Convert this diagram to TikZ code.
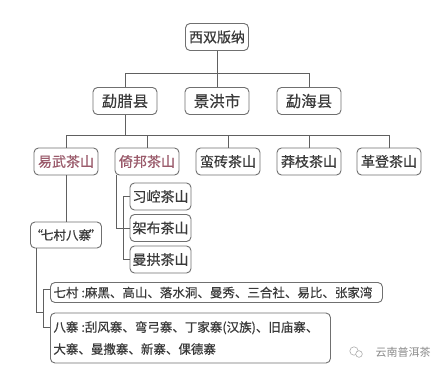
\documentclass[tikz,border=0pt]{standalone}
\usepackage{fontspec}
\newfontfamily\cjk[FakeBold=0.4]{Noto Sans CJK SC}
\newfontfamily\cjkl{Noto Sans CJK SC}
\definecolor{boxgray}{HTML}{707070}
\definecolor{linegray}{HTML}{606060}
\definecolor{txt}{HTML}{3A3A3A}
\definecolor{mauve}{HTML}{9A5A6A}
\definecolor{wm}{HTML}{8A8A8A}
\begin{document}
\begin{tikzpicture}[x=1pt,y=-1pt,
  box/.style={draw=boxgray, line width=0.9pt, rounded corners=4.5pt, fill=white,
    inner sep=0pt, text=txt, font=\cjk\fontsize{14}{14}\selectfont,
    minimum width=64pt, minimum height=27pt},
  lvtwo/.style={box, font=\cjk\fontsize{15.5}{15.5}\selectfont},
  hl/.style={text=mauve},
  wide/.style={box, anchor=west, align=left, inner xsep=3pt,
    font=\cjk\fontsize{12.5}{22}\selectfont},
  conn/.style={draw=linegray, line width=0.9pt}]
\useasboundingbox (0,0) rectangle (443,371);
\fill[white] (0,0) rectangle (443,371);

% level 1
\node[box, minimum width=63pt] (top) at (217,37) {西双版纳};
% level 2
\node[lvtwo] (la) at (125,101) {勐腊县};
\node[lvtwo] (jh) at (217,101) {景洪市};
\node[lvtwo] (hh) at (309,101) {勐海县};
% level 3
\node[box, hl] (yw) at (66,161.5) {易武茶山};
\node[box, hl] (yb) at (147,161.5) {倚邦茶山};
\node[box] (mz) at (228,161.5) {蛮砖茶山};
\node[box] (mzh) at (309,161.5) {莽枝茶山};
\node[box] (gd) at (389,161.5) {革登茶山};
% children of yibang
\node[box, minimum width=61pt] (xk) at (160.5,196.5) {习崆茶山};
\node[box, minimum width=61pt] (jb) at (160.5,228) {架布茶山};
\node[box, minimum width=61pt] (mg) at (160.5,259.5) {曼拱茶山};
% qicun bazhai
\node[box, minimum height=26pt, font=\cjk\fontsize{12.5}{12.5}\selectfont] (qb) at (66,235) {“\kern-2pt七村八寨\kern-2pt”};
\node[wide, text width=326pt, minimum height=20pt] (qc) at (50,292.5)
  {七村\hspace{3pt}:麻黑、高山、落水洞、曼秀、三合社、易比、张家湾};
\node[wide, text width=274pt, minimum height=50pt] (bz) at (50,338)
  {八寨\hspace{3pt}:刮风寨、弯弓寨、丁家寨(汉族)、旧庙寨、\\大寨、曼撒寨、新寨、倮德寨};

% coordinates
\coordinate (b1) at (0,73);
\coordinate (b2) at (0,135);
\coordinate (ybx) at (116,175);
\coordinate (qx) at (36,248);
\coordinate (jq) at (43,312);
\coordinate (s1) at (43,289);
\coordinate (s2) at (43,327);

% connectors
\draw[conn] (top.south) -- (top.south |- b1);
\draw[conn] (la.north) -- (la.north |- b1) -- (hh.north |- b1) -- (hh.north);
\draw[conn] (jh.north) -- (jh.north |- b1);
\draw[conn] (la.south) -- (la.south |- b2);
\draw[conn] (yw.north) -- (yw.north |- b2) -- (gd.north |- b2) -- (gd.north);
\draw[conn] (yb.north) -- (yb.north |- b2);
\draw[conn] (mz.north) -- (mz.north |- b2);
\draw[conn] (mzh.north) -- (mzh.north |- b2);
\draw[conn] (ybx) |- (jb.west);
\draw[conn] (xk.west) -- ++(-6,0) |- (mg.west);
\draw[conn] (yw.south) -- (qb.north);
\draw[conn] (qx) |- (jq);
\draw[conn] (qc.west |- s1) -- (s1) -- (s2) -- (bz.west |- s2);

% watermark
\node[text=wm, font=\cjkl\fontsize{11}{11}\selectfont, inner sep=0pt] (wmk) at (403,352) {云南普洱茶};
\draw[wm!70, line width=0.6pt] (354,351) circle (4.2);
\draw[wm!70, line width=0.6pt, fill=white] (359,354) circle (3.3);
\end{tikzpicture}
\end{document}
